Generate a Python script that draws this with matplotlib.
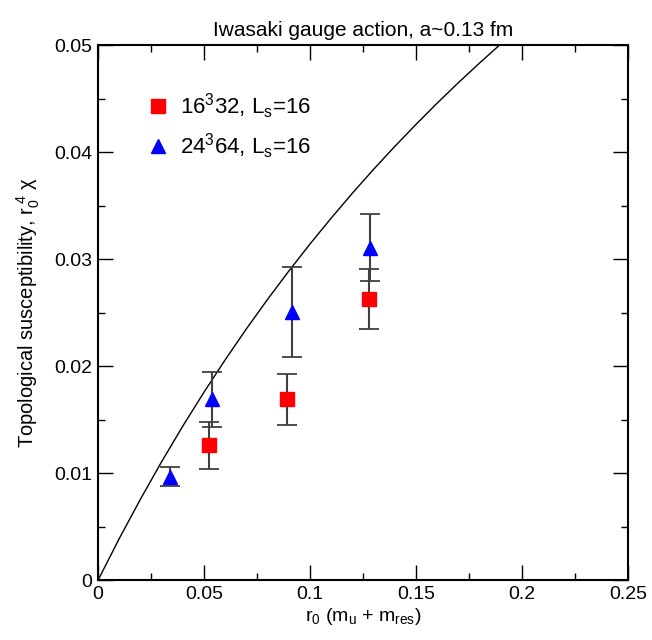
import matplotlib
matplotlib.use("Agg")
import matplotlib.pyplot as plt
from matplotlib.ticker import MultipleLocator, FuncFormatter
from matplotlib.lines import Line2D

plt.rcParams['font.family'] = ['Liberation Sans', 'DejaVu Sans']
plt.rcParams['mathtext.fontset'] = 'custom'
plt.rcParams['mathtext.rm'] = 'Liberation Sans'
plt.rcParams['mathtext.it'] = 'Liberation Sans'
plt.rcParams['mathtext.bf'] = 'Liberation Sans:bold'

# Data
x_16 = [0.0524, 0.0893, 0.1278]
y_16 = [0.0126, 0.0169, 0.0263]
e_16 = [0.0022, 0.0024, 0.0028]

x_24 = [0.0340, 0.0539, 0.0914, 0.1282]
y_24 = [0.0097, 0.0169, 0.0251, 0.0311]
e_24 = [0.0009, 0.0026, 0.0042, 0.0031]

# Curve
curve_x = [0.0, 0.01, 0.02, 0.03, 0.04, 0.05, 0.06, 0.07, 0.08, 0.09, 0.10,
           0.11, 0.12, 0.13, 0.14, 0.15, 0.16, 0.17, 0.18, 0.19]
curve_y = [0.0, 0.00389, 0.00757, 0.01108, 0.01441, 0.01758, 0.02061, 0.02350,
           0.02626, 0.02890, 0.03143, 0.03385, 0.03618, 0.03841, 0.04055,
           0.04261, 0.04460, 0.04651, 0.04835, 0.05013]

labels = [r'16$^3$32, L$_s$=16', r'24$^3$64, L$_s$=16']

fig = plt.figure(figsize=(6.52, 6.40), dpi=100)
ax = fig.add_axes([0.1503, 0.0933, 0.8129, 0.8359])

ax.plot(curve_x, curve_y, color='black', lw=1.0)

ax.errorbar(x_16, y_16, yerr=e_16, fmt='s', color='red', ms=10,
            ecolor='#404040', elinewidth=1.5, capsize=7, capthick=1.3, zorder=3)
ax.errorbar(x_24, y_24, yerr=e_24, fmt='^', color='blue', ms=10,
            ecolor='#404040', elinewidth=1.5, capsize=7, capthick=1.3, zorder=3)

ax.set_xlim(0, 0.25)
ax.set_ylim(0, 0.05)
ax.xaxis.set_major_locator(MultipleLocator(0.05))
ax.xaxis.set_minor_locator(MultipleLocator(0.025))
ax.yaxis.set_major_locator(MultipleLocator(0.01))
ax.yaxis.set_minor_locator(MultipleLocator(0.005))
ax.xaxis.set_major_formatter(FuncFormatter(lambda v, p: f'{v:g}'))
ax.yaxis.set_major_formatter(FuncFormatter(lambda v, p: f'{v:g}'))

ax.tick_params(which='both', direction='in', top=True, right=True, labelsize=14, width=1.0)
ax.tick_params(which='major', length=10.5, pad=4)
ax.tick_params(which='minor', length=5.3)
for s in ax.spines.values():
    s.set_linewidth(1.5)

ax.set_xlabel(r'r$_0$ (m$_u$ + m$_{res}$)', fontsize=14, labelpad=2)
ax.set_ylabel(r'Topological susceptibility, r$_0^{\ 4}$ χ', fontsize=14.5, labelpad=9)
ax.set_title('Iwasaki gauge action, a~0.13 fm', fontsize=15, pad=7)

handles = [Line2D([], [], ls='none', marker='s', color='red', ms=10),
           Line2D([], [], ls='none', marker='^', color='blue', ms=10)]
ax.legend(handles, labels, loc='upper left', bbox_to_anchor=(0.092, 0.913),
          frameon=False, fontsize=16, handlelength=1.0, handletextpad=0.5,
          labelspacing=0.47, borderaxespad=0, borderpad=0)

fig.savefig('out.png', dpi=100)
